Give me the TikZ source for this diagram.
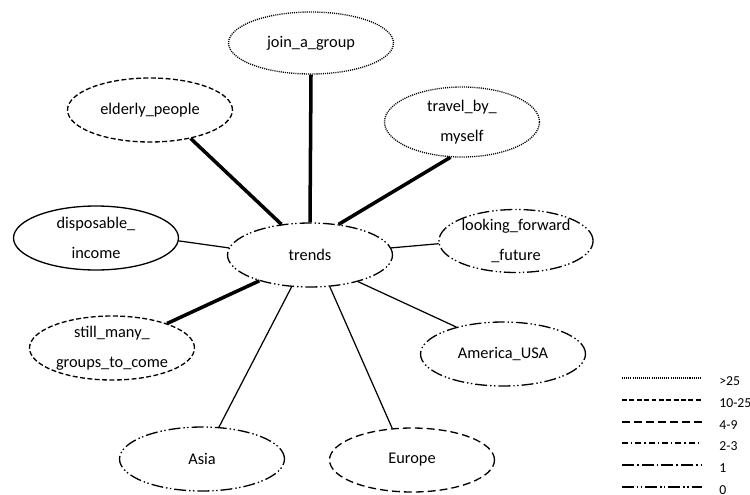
\documentclass[tikz,border=0pt]{standalone}
\usepackage{fontspec}
\setmainfont{Carlito}
\usepackage{tikz}
\usetikzlibrary{arrows,positioning,shapes,calc}

\begin{document}
\begin{tikzpicture}[x=0.02cm, y=-0.02cm,
  every node/.style={font=\fontsize{9.3}{17}\selectfont},
  topic/.style={ellipse, draw, line width=0.75pt, minimum width=3.3cm, minimum height=1.28cm, inner sep=0pt, align=center},
  strong/.style={line width=2pt},
  weak/.style={line width=0.7pt},
  keytext/.style={anchor=west, inner sep=0pt, font=\fontsize{7.8}{9}\selectfont},
  cnt25/.style={dash pattern=on 0.6pt off 0.6pt},
  cnt1025/.style={dash pattern=on 2.8pt off 1.4pt},
  cnt49/.style={dash pattern=on 4.5pt off 2.3pt},
  cnt23/.style={dash pattern=on 3.4pt off 1.7pt on 0.8pt off 1.7pt},
  cnt1/.style={dash pattern=on 6.8pt off 1.7pt on 1pt off 1.7pt},
  cnt0/.style={dash pattern=on 6.8pt off 1.7pt on 0.8pt off 1.4pt on 0.8pt off 1.7pt}]
\useasboundingbox (0,0) rectangle (750,494);

%centre
\node[topic, cnt0] (trends) at (310,255) {trends};

%outer topics
\node[topic, cnt25, minimum height=1.24cm] (join) at (311,43) {join\_a\_group};
\node[topic, cnt1025] (elderly) at (150,110) {elderly\_people};
\node[topic, cnt25, minimum width=3.1cm, minimum height=1.4cm] (travel) at (462,122) {travel\_by\_\\myself};
\node[topic] (disposable) at (96,238) {disposable\_\\income};
\node[topic, cnt0, minimum width=2.95cm, minimum height=1.26cm] (looking) at (516,241) {looking\_forward\\\_future};
\node[topic, cnt1025] (still) at (112,348) {still\_many\_\\groups\_to\_come};
\node[topic, cnt0] (america) at (503,354) {America\_USA};
\node[topic, cnt0] (asia) at (202,459) {Asia};
\node[topic, cnt49] (europe) at (412,460) {Europe};

%links
\draw[strong] (join.south) -- (trends.north);
\draw[strong] (elderly.-35) -- (trends.133);
\draw[strong] (travel.-108) -- (trends.47);
\draw[strong] (still.24) -- (trends.207);
\draw[weak] (disposable.-2) -- (trends.175);
\draw[weak] (looking.182) -- (trends.5);
\draw[weak] (america.150) -- (trends.-29);
\draw[weak] (asia.62) -- (trends.-120);
\draw[weak] (europe.122) -- (trends.-58);

%legend
\foreach \st/\lab [count=\i] in {cnt25/{>25}, cnt1025/{10-25}, cnt49/{4-9}, cnt23/{2-3}, cnt1/{1}, cnt0/{0}} {
  \coordinate (ls\i) at (622,{378+21.8*(\i-1)});
  \coordinate (le\i) at (702,{378+21.8*(\i-1)});
  \draw[\st, line width=1.1pt] (ls\i) -- (le\i);
  \node[keytext] (lt\i) at ($(le\i)+(17,3)$) {\lab};
}
\end{tikzpicture}
\end{document}
